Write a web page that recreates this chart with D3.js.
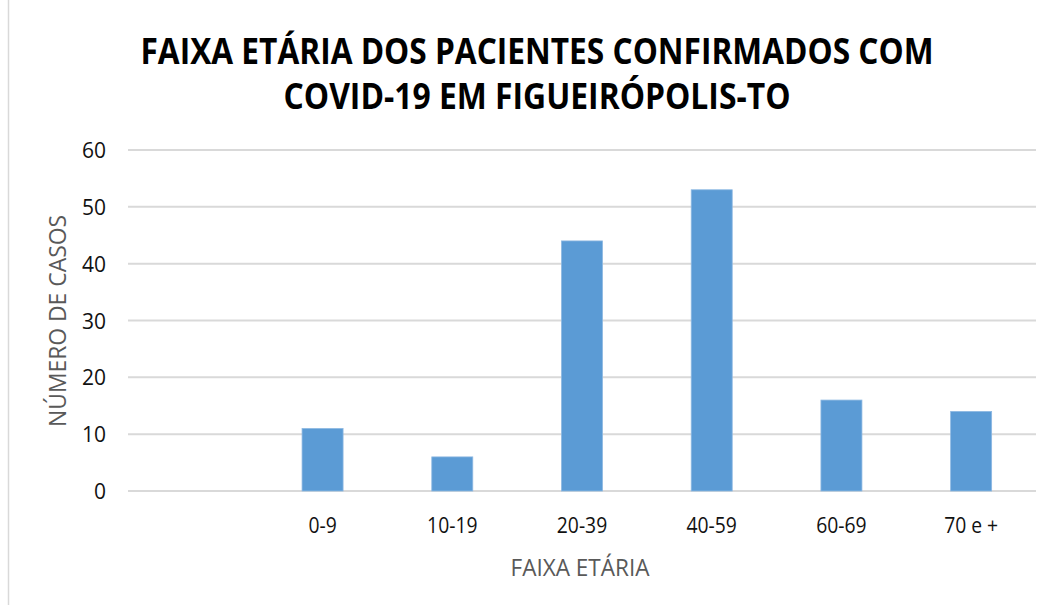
<!DOCTYPE html>
<html><head><meta charset="utf-8">
<script src="https://cdn.jsdelivr.net/npm/d3@7"></script>
<style>body{margin:0;background:#fff;}svg{display:block;}</style>
</head><body>
<script>
const categories = ["", "0-9", "10-19", "20-39", "40-59", "60-69", "70 e +"];
const values = [null, 11, 6, 44, 53, 16, 14];
const yTicks = [0, 10, 20, 30, 40, 50, 60];
const titleLines = ["FAIXA ETÁRIA DOS PACIENTES CONFIRMADOS COM", "COVID-19 EM FIGUEIRÓPOLIS-TO"];
const xTitle = "FAIXA ETÁRIA";
const yTitle = "NÚMERO DE CASOS";

(function () {
const W = 1052, H = 605;
const svg = d3.select("body").append("svg").attr("width", W).attr("height", H);
svg.append("rect").attr("width", W).attr("height", H).attr("fill", "#fff");
svg.append("line").attr("x1", 8.5).attr("x2", 8.5).attr("y1", 0).attr("y2", H)
  .attr("stroke", "#d9d9d9").attr("stroke-width", 1.5);

const pL = 128, pR = 1036, pT = 150, pB = 491;
const x = d3.scaleBand().domain(categories).range([pL, pR]).paddingInner(0.685).paddingOuter(0.3425);
const y = d3.scaleLinear().domain([0, 60]).range([pB, pT]);

// gridlines
svg.append("g").selectAll("line").data(yTicks).join("line")
  .attr("x1", pL).attr("x2", pR)
  .attr("y1", d => y(d)).attr("y2", d => y(d))
  .attr("stroke", "#d9d9d9").attr("stroke-width", 2);

// y axis labels
const yAxis = d3.axisLeft(y).tickValues(yTicks).tickSize(0).tickPadding(0);
const gy = svg.append("g").attr("transform", `translate(${pL - 22},0)`).call(yAxis);
gy.select(".domain").remove();
gy.selectAll("text").attr("font-family", "'Open Sans', sans-serif").attr("font-size", 21).attr("fill", "#111").attr("dy", "0.36em");

// x axis labels
const xAxis = d3.axisBottom(x).tickSize(0).tickPadding(0);
const gx = svg.append("g").attr("transform", `translate(0,${pB + 34})`).call(xAxis);
gx.select(".domain").remove();
gx.selectAll("text").attr("font-family", "'Open Sans', sans-serif").attr("font-size", 21).attr("fill", "#111").attr("dy", "0.36em")
  .attr("textLength", function () { return this.getComputedTextLength() * 0.92; }).attr("lengthAdjust", "spacingAndGlyphs");

// bars
const bw = 41;
svg.append("g").selectAll("rect").data(categories.map((c, i) => ({c, v: values[i]})).filter(d => d.v != null))
  .join("rect")
  .attr("x", d => x(d.c) + x.bandwidth() / 2 - bw / 2)
  .attr("width", bw)
  .attr("y", d => y(d.v))
  .attr("height", d => y(0) - y(d.v))
  .attr("fill", "#5b9bd5")
  .attr("stroke", "#8db8e2").attr("stroke-width", 0.8);

// title
const tw = [793, 507];
svg.append("g").selectAll("text").data(titleLines).join("text")
  .attr("x", 537).attr("y", (d, i) => 63.5 + i * 45)
  .attr("text-anchor", "middle")
  .attr("font-family", "'Open Sans', sans-serif").attr("font-weight", "bold").attr("font-size", 35)
  .attr("textLength", (d, i) => tw[i]).attr("lengthAdjust", "spacingAndGlyphs")
  .attr("fill", "#000").text(d => d);

// axis titles
svg.append("text").attr("x", 580).attr("y", 576).attr("text-anchor", "middle")
  .attr("font-family", "'Open Sans', sans-serif").attr("font-size", 24).attr("fill", "#595959")
  .attr("textLength", 139).attr("lengthAdjust", "spacingAndGlyphs").text(xTitle);
svg.append("text").attr("transform", "translate(66,321) rotate(-90)").attr("text-anchor", "middle")
  .attr("font-family", "'Open Sans', sans-serif").attr("font-size", 24).attr("fill", "#595959")
  .attr("textLength", 212).attr("lengthAdjust", "spacingAndGlyphs").text(yTitle);
})();
</script>
</body></html>
